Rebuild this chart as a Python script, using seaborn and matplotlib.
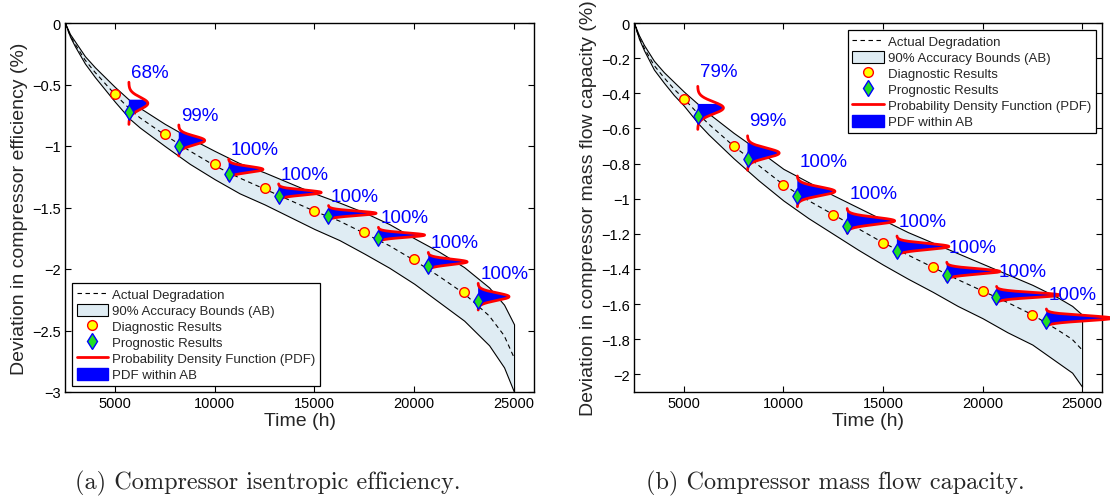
import numpy as np
import pandas as pd
import matplotlib
matplotlib.use("Agg")
import matplotlib.pyplot as plt
import seaborn as sns
from matplotlib.lines import Line2D
from matplotlib.patches import Patch

# ---------------- data ----------------
time_grid = [2500, 2750, 3000, 3500, 4000, 4500, 5000, 5750, 6250, 7500, 8750, 10000,
             11250, 12500, 13750, 15000, 16250, 17500, 18750, 20000, 21250, 22500,
             23750, 24500, 25000]

# (a) compressor isentropic efficiency
eff_actual = [0, -0.10, -0.17, -0.30, -0.40, -0.49, -0.58, -0.70, -0.77, -0.91, -1.04, -1.16,
              -1.26, -1.35, -1.44, -1.53, -1.61, -1.71, -1.81, -1.93, -2.06, -2.20,
              -2.38, -2.54, -2.72]
eff_upper = [0, -0.09, -0.15, -0.27, -0.36, -0.44, -0.52, -0.63, -0.69, -0.82, -0.935, -1.04,
             -1.14, -1.215, -1.30, -1.385, -1.46, -1.54, -1.635, -1.75, -1.86, -1.985,
             -2.15, -2.29, -2.45]
eff_lower = [0, -0.11, -0.19, -0.33, -0.44, -0.54, -0.64, -0.78, -0.85, -1.00, -1.145, -1.27,
             -1.385, -1.475, -1.575, -1.675, -1.765, -1.875, -1.99, -2.12, -2.27, -2.42,
             -2.62, -2.80, -3.00]

# (b) compressor mass flow capacity
flow_actual = [0, -0.08, -0.14, -0.24, -0.31, -0.375, -0.43, -0.52, -0.575, -0.70, -0.81, -0.92,
               -1.01, -1.09, -1.17, -1.25, -1.32, -1.39, -1.46, -1.525, -1.59, -1.66,
               -1.745, -1.80, -1.86]
flow_upper = [0, -0.07, -0.125, -0.215, -0.28, -0.335, -0.39, -0.465, -0.515, -0.625, -0.725, -0.83,
              -0.905, -0.98, -1.05, -1.12, -1.19, -1.25, -1.31, -1.37, -1.43, -1.49,
              -1.56, -1.61, -1.66]
flow_lower = [0, -0.09, -0.155, -0.265, -0.34, -0.41, -0.47, -0.575, -0.635, -0.77, -0.895, -1.01,
              -1.11, -1.20, -1.29, -1.375, -1.455, -1.53, -1.61, -1.68, -1.76, -1.83,
              -1.93, -1.99, -2.07]

diag_time = [5000, 7500, 10000, 12500, 15000, 17500, 20000, 22500]
eff_diag = [-0.577, -0.905, -1.149, -1.341, -1.526, -1.702, -1.919, -2.19]
flow_diag = [-0.433, -0.702, -0.922, -1.091, -1.252, -1.391, -1.525, -1.662]

prog_time = [5700, 8200, 10700, 13200, 15700, 18200, 20700, 23200]
eff_prog = [-0.726, -1.00, -1.228, -1.404, -1.572, -1.750, -1.978, -2.263]
flow_prog = [-0.532, -0.774, -0.986, -1.153, -1.298, -1.434, -1.558, -1.698]

# prognostic PDFs: centre, spread (deviation units) and peak length (hours)
eff_pdf_mean = [-0.653, -0.955, -1.190, -1.378, -1.547, -1.724, -1.942, -2.225]
eff_pdf_sd = [0.049, 0.036, 0.024, 0.020, 0.018, 0.018, 0.022, 0.031]
eff_pdf_peak = [950, 1300, 1720, 2140, 2390, 2320, 1950, 1550]
eff_pct = ['68%', '99%', '100%', '100%', '100%', '100%', '100%', '100%']

flow_pdf_mean = [-0.483, -0.740, -0.958, -1.126, -1.272, -1.414, -1.548, -1.680]
flow_pdf_sd = [0.035, 0.028, 0.025, 0.020, 0.017, 0.015, 0.014, 0.015]
flow_pdf_peak = [1290, 1590, 1890, 2390, 2610, 2670, 3170, 3300]
flow_pct = ['79%', '99%', '100%', '100%', '100%', '100%', '100%', '100%']

x_ticks = [5000, 10000, 15000, 20000, 25000]
x_tick_labels = ['5000', '10000', '15000', '20000', '25000']
eff_yticks = [0, -0.5, -1, -1.5, -2, -2.5, -3]
eff_ytick_labels = ['0', '\u22120.5', '\u22121', '\u22121.5', '\u22122', '\u22122.5', '\u22123']
flow_yticks = [0, -0.2, -0.4, -0.6, -0.8, -1, -1.2, -1.4, -1.6, -1.8, -2]
flow_ytick_labels = ['0', '\u22120.2', '\u22120.4', '\u22120.6', '\u22120.8', '\u22121',
                     '\u22121.2', '\u22121.4', '\u22121.6', '\u22121.8', '\u22122']

legend_labels = ['Actual Degradation', '90% Accuracy Bounds (AB)', 'Diagnostic Results',
                 'Prognostic Results', 'Probability Density Function (PDF)', 'PDF within AB']

# ---------------- style ----------------
sns.set_theme(style='ticks')
plt.rcParams['font.family'] = ['Liberation Sans', 'DejaVu Sans']
plt.rcParams['axes.linewidth'] = 1.0

BAND = '#dfecf3'
GREEN = '#22dd22'
DASH = (0, (4, 3.2))

fig = plt.figure(figsize=(11.1, 5.02), dpi=100)
ax_a = fig.add_axes([65 / 1110, 109 / 502, 469 / 1110, 369 / 502])
ax_b = fig.add_axes([634 / 1110, 109 / 502, 468 / 1110, 369 / 502])


def draw(ax, actual, upper, lower, diag, prog, mu, sd, peak, pct, ylim, yticks, yticklabels,
         ylabel, leg_loc, leg_anchor, lab_off):
    t = np.array(time_grid, float)
    ax.fill_between(t, lower, upper, facecolor=BAND, edgecolor='black', linewidth=0.8, zorder=1)
    df = pd.DataFrame({'Time': t, 'Dev': actual})
    sns.lineplot(data=df, x='Time', y='Dev', ax=ax, color='black', linewidth=0.8,
                 linestyle=DASH, zorder=2, legend=False, sort=False)
    for t0, m, s, h, lab in zip(prog_time, mu, sd, peak, pct):
        yy = np.linspace(m - 3.5 * s, m + 3.5 * s, 400)
        xx = t0 + h * np.exp(-0.5 * ((yy - m) / s) ** 2)
        lo = np.interp(t0, t, lower)
        hi = np.interp(t0, t, upper)
        inside = (yy >= lo) & (yy <= hi)
        ax.fill_betweenx(yy, t0, xx, where=inside, facecolor='blue', edgecolor='none',
                         zorder=3, clip_on=False)
        ax.plot(xx, yy, color='red', linewidth=2.0, zorder=4, clip_on=False,
                solid_capstyle='round')
        ax.annotate(lab, xy=(t0, m + 3.5 * s), xytext=(1.5, lab_off), textcoords='offset points',
                    ha='left', va='baseline', color='blue', fontsize=13.5, zorder=6)
    sns.scatterplot(x=diag_time, y=diag, ax=ax, marker='o', s=48, color='yellow',
                    edgecolor='red', linewidth=1.0, zorder=5)
    sns.scatterplot(x=prog_time, y=prog, ax=ax, marker='d', s=62, color=GREEN,
                    edgecolor='blue', linewidth=1.0, zorder=5)

    ax.set_xlim(2500, 26000)
    ax.set_ylim(*ylim)
    ax.set_xticks(x_ticks)
    ax.set_xticklabels(x_tick_labels)
    ax.set_yticks(yticks)
    ax.set_yticklabels(yticklabels)
    ax.tick_params(direction='in', length=4, width=0.8, top=True, right=True,
                   labelsize=10.5, colors='black', pad=3)
    for sp in ax.spines.values():
        sp.set_color('black')
        sp.set_linewidth(1.0)
    ax.set_xlabel('Time (h)', fontsize=14, labelpad=1)
    ax.set_ylabel(ylabel, fontsize=14, labelpad=3)

    handles = [
        Line2D([], [], color='black', lw=0.8, ls=DASH),
        Patch(facecolor=BAND, edgecolor='black', lw=0.8),
        Line2D([], [], ls='none', marker='o', ms=7, mfc='yellow', mec='red', mew=1.0),
        Line2D([], [], ls='none', marker='d', ms=8, mfc=GREEN, mec='blue', mew=1.0),
        Line2D([], [], color='red', lw=2),
        Patch(facecolor='blue', edgecolor='blue'),
    ]
    leg = ax.legend(handles, legend_labels, loc=leg_loc, bbox_to_anchor=leg_anchor,
                    borderaxespad=0, fontsize=9.5, fancybox=False, framealpha=1,
                    edgecolor='black', handlelength=2.4, handleheight=1.0,
                    handletextpad=0.3, labelspacing=0.2, borderpad=0.35)
    leg.get_frame().set_linewidth(0.9)
    leg.set_zorder(10)


draw(ax_a, eff_actual, eff_upper, eff_lower, eff_diag, eff_prog, eff_pdf_mean, eff_pdf_sd,
     eff_pdf_peak, eff_pct, (-3, 0), eff_yticks, eff_ytick_labels,
     'Deviation in compressor efficiency (%)', 'lower left', (0.015, 0.016), 3.6)
draw(ax_b, flow_actual, flow_upper, flow_lower, flow_diag, flow_prog, flow_pdf_mean, flow_pdf_sd,
     flow_pdf_peak, flow_pct, (-2.1, 0), flow_yticks, flow_ytick_labels,
     'Deviation in compressor mass flow capacity (%)', 'upper right', (0.987, 0.981), 7.5)

fig.text(268 / 1110, 1 - 483 / 502, '(a) Compressor isentropic efficiency.', ha='center',
         va='center', fontfamily='cmr10', fontsize=17.5)
fig.text(835 / 1110, 1 - 483 / 502, '(b) Compressor mass flow capacity.', ha='center',
         va='center', fontfamily='cmr10', fontsize=17.5)

fig.savefig('out.png', dpi=100)
